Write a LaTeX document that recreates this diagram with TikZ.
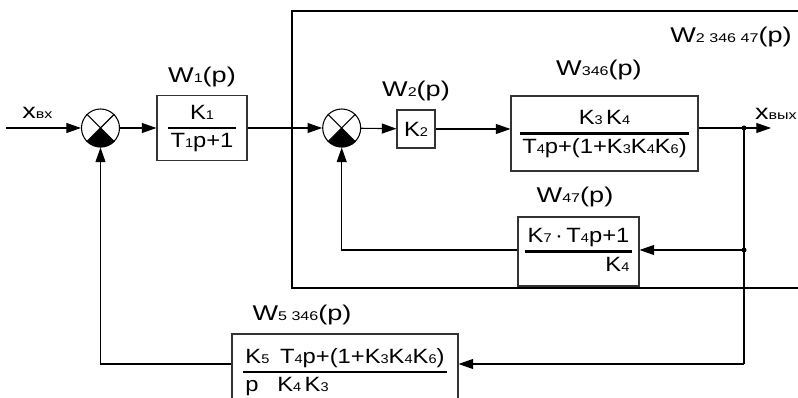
\documentclass[tikz,border=0pt]{standalone}
\usepackage{fontspec}
\setmainfont{Liberation Sans}[FakeStretch=1.15]
\newfontfamily\capfont{Liberation Sans}[FakeStretch=1.27]
\usetikzlibrary{arrows.meta, positioning}
\newcommand\ix[1]{{\fontsize{9.5}{10}\selectfont #1}}% small index on the baseline
\setlength\arrayrulewidth{1.6pt}
\renewcommand\arraystretch{1.1}
\newcommand\frc[2]{\begin{tabular}{@{\hspace{2pt}}c@{\hspace{2pt}}}#1\\\hline #2\end{tabular}}
\tikzset{
  blk/.style={% transfer function block
      rectangle, draw=black!80, line width=0.8pt,
      inner sep=0pt, align=center,
      font=\fontsize{15.5}{18}\selectfont,
  },
  lbl/.style={% block caption
      inner sep=0pt,
      font=\capfont\fontsize{16}{18}\selectfont,
  },
  sumj/.style={% summing junction
      circle, draw, line width=0.8pt,
      minimum size=28.5pt, inner sep=0pt,
  },
  wire/.style={line width=0.8pt},
  sig/.style={wire, -{Triangle[length=11pt,width=7.5pt]}},
}
\def\junction(#1)#2{%
  \node[sumj] (#2) at (#1) {};
  \draw[wire] (#2.north west) -- (#2.south east) (#2.north east) -- (#2.south west);
  \fill (#2.center) -- (#2.south east) arc[start angle=-45, end angle=-135, radius=14.25pt] -- cycle;
}
\begin{document}
\begin{tikzpicture}[x=0.75pt, y=-0.75pt]
  \useasboundingbox (0,0) rectangle (798,398);
  \clip (0,0) rectangle (798,398);
  % outer frame, open to the right
  \draw[wire] (810,11) -| (292,288) -- (810,288);
  % junctions
  \junction(100.5,128){s1}
  \junction(341.7,128){s2}
  % blocks
  \node[blk, minimum width=67.5pt, minimum height=48.75pt] (W1) at (202,128)
    {\frc{K\ix{1}}{T\ix{1}p+1}};
  \node[blk, minimum width=28.5pt, minimum height=28.5pt] (K2) at (416,129) {K\ix{2}};
  \node[blk, minimum width=140.25pt, minimum height=56.25pt] (W346) at (604.5,133.5)
    {\frc{K\ix{3}\,K\ix{4}}{T\ix{4}p+(1+K\ix{3}K\ix{4}K\ix{6})}};
  \node[blk, minimum width=90.75pt, minimum height=51.75pt] (W47) at (578.5,251.5)
    {\begin{tabular}{@{\hspace{2pt}}r@{\hspace{2pt}}}K\ix{7}\,·\,T\ix{4}p+1\\\hline K\ix{4}\hspace{12pt}\end{tabular}};
  \node[blk, minimum width=169.5pt, minimum height=57pt] (W5) at (345,372)
    {\begin{tabular}{@{\hspace{2pt}}l@{\hspace{2pt}}}K\ix{5}\hspace{8pt}T\ix{4}p+(1+K\ix{3}K\ix{4}K\ix{6})\\\hline p\hspace{14pt}K\ix{4}\,K\ix{3}\end{tabular}};
  % captions
  \node[lbl, above=6pt of W1] (tW1) {W\ix{1}(p)};
  \node[lbl, above=6pt of K2] (tK2) {W\ix{2}(p)};
  \node[lbl] (tW346) at (599,70) {W\ix{346}(p)};
  \node[lbl] (tW47) at (575,197) {W\ix{47}(p)};
  \node[lbl] (tW5) at (302,315) {W\ix{5 346}(p)};
  \node[lbl] (tW2) at (731,37) {W\ix{2 346 47}(p)};
  % input and output
  \coordinate (in) at (6,128);
  \coordinate (out) at (771,128);
  \coordinate (j1) at (744,128);
  \coordinate (j2) at (744,250);
  \coordinate (j3) at (744,364);
  \node[lbl, anchor=west] (xin) at (22,113) {x\ix{вх}};
  \node[lbl, anchor=east] (xout) at (797,114) {x\ix{вых}};
  % signal path
  \draw[sig] (in) -- (s1);
  \draw[sig] (s1) -- (W1);
  \draw[sig] (W1) -- (s2);
  \draw[sig] (s2) -- (K2);
  \draw[sig] (K2) -- (W346.west |- K2);
  \draw[sig] (W346.east |- j1) -- (out);
  % feedback loops
  \draw[wire] (j1) -- (j3);
  \draw[sig] (j2) -- (W47.east |- j2);
  \draw[sig] (W47.west |- j2) -| (s2);
  \draw[sig] (j3) -- (W5.east |- j3);
  \draw[sig] (W5.west |- j3) -| (s1);
  \fill (j1) circle (2.5);
  \fill (j2) circle (2.5);
\end{tikzpicture}
\end{document}
